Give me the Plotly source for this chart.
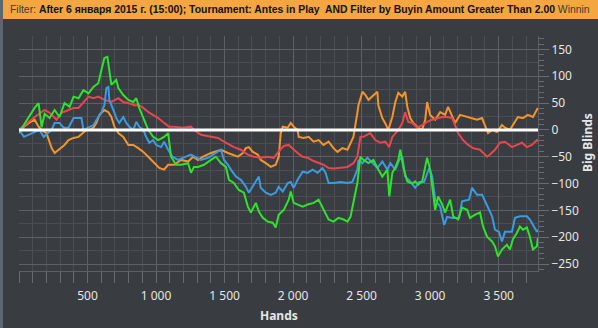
import plotly.graph_objects as go

# ---------------- data (hands, big blinds) ----------------
green_h = [0, 114, 143, 165, 187, 223, 260, 296, 332, 369, 398, 434, 470, 507, 543, 579, 601, 623, 645, 652,
           674, 710, 725, 761, 798, 834, 856, 877, 914, 943, 979, 1016, 1059, 1088, 1110, 1146, 1183, 1234, 1255,
           1277, 1306, 1350, 1401, 1437, 1474, 1510, 1532, 1568, 1604, 1641, 1670, 1692, 1728, 1750, 1779, 1815,
           1852, 1873, 1895, 1932, 1968, 1983, 2004, 2033, 2070, 2106, 2150, 2186, 2222, 2259, 2295, 2331, 2368,
           2397, 2419, 2440, 2469, 2491, 2513, 2550, 2586, 2622, 2651, 2688, 2702, 2724, 2746, 2768, 2782, 2804,
           2833, 2870, 2891, 2913, 2942, 2964, 2978, 3000, 3022, 3037, 3058, 3088, 3109, 3146, 3168, 3204, 3233,
           3270, 3291, 3328, 3364, 3386, 3415, 3452, 3473, 3495, 3524, 3560, 3582, 3604, 3633, 3655, 3677, 3706,
           3728, 3750, 3779, 3786]
green_v = [-5, 41, 50, 5, 30, 22, 37, 24, 50, 43, 62, 59, 74, 68, 80, 87, 111, 134, 136, 124,
           84, 93, 78, 65, 56, 52, 59, 41, 19, 0, -13, -19, -13, -6, -50, -65, -65, -62, -80,
           -69, -69, -65, -56, -50, -62, -69, -93, -99, -112, -117, -143, -154, -136, -152, -164, -171,
           -173, -182, -158, -149, -130, -115, -136, -139, -143, -139, -136, -130, -149, -167, -171, -164, -167,
           -171, -162, -136, -99, -50, -56, -62, -56, -74, -87, -74, -124, -80, -70, -56, -37, -69,
           -96, -100, -96, -102, -96, -69, -52, -74, -117, -149, -124, -139, -154, -130, -161, -167, -145,
           -149, -164, -158, -154, -180, -199, -208, -217, -236, -223, -214, -223, -204, -192, -180, -186, -182,
           -199, -223, -217, -201]

red_h = [0, 114, 187, 223, 274, 311, 361, 398, 434, 470, 507, 543, 579, 623, 674, 725, 761, 798, 841, 877,
         907, 950, 1016, 1059, 1095, 1132, 1197, 1255, 1277, 1328, 1401, 1452, 1496, 1568, 1619, 1670, 1713,
         1764, 1815, 1859, 1895, 1932, 1968, 2004, 2033, 2070, 2106, 2150, 2186, 2222, 2259, 2295, 2331, 2368,
         2397, 2440, 2469, 2491, 2513, 2563, 2600, 2637, 2673, 2702, 2724, 2768, 2797, 2818, 2840, 2870, 2906,
         2942, 2978, 3015, 3051, 3088, 3124, 3160, 3182, 3204, 3240, 3277, 3313, 3364, 3415, 3437, 3473, 3509,
         3546, 3597, 3633, 3670, 3706, 3742, 3779, 3786]
red_v = [0, 24, 37, 32, 19, 32, 37, 41, 41, 52, 62, 59, 62, 56, 52, 59, 52, 50, 46, 46,
         41, 32, 22, 13, 6, 6, 4, 6, 0, -9, -13, -15, -22, -32, -37, -46, -50,
         -52, -50, -52, -40, -30, -28, -37, -43, -50, -52, -58, -62, -65, -71, -72, -71, -70,
         -69, -62, -50, -13, -13, -6, -19, -24, -22, -32, -13, 0, 13, 33, 15, 13, 4,
         9, 15, 19, 22, 24, 24, 22, 9, -6, -19, -28, -34, -37, -50, -46, -37, -24,
         -22, -32, -28, -24, -32, -28, -19, -22]

blue_h = [0, 36, 114, 150, 180, 216, 238, 260, 296, 325, 361, 398, 456, 470, 507, 543, 579, 601, 623, 638,
          652, 659, 689, 710, 732, 761, 783, 805, 834, 856, 877, 907, 928, 950, 979, 1001, 1037, 1059, 1088,
          1120, 1160, 1200, 1255, 1328, 1379, 1437, 1474, 1496, 1525, 1546, 1583, 1619, 1656, 1677, 1706, 1728,
          1750, 1764, 1801, 1837, 1873, 1895, 1924, 1961, 1983, 2004, 2033, 2070, 2106, 2143, 2179, 2215, 2237,
          2259, 2295, 2346, 2397, 2433, 2469, 2477, 2506, 2542, 2579, 2615, 2651, 2688, 2710, 2746, 2775, 2797,
          2818, 2855, 2891, 2920, 2956, 2993, 3015, 3037, 3073, 3102, 3124, 3160, 3211, 3233, 3284, 3306, 3342,
          3379, 3401, 3430, 3452, 3473, 3502, 3524, 3546, 3597, 3619, 3655, 3706, 3728, 3757, 3779, 3786]
blue_v = [0, -13, -4, 0, -13, -4, 0, 13, 13, 4, 4, 22, 22, 0, 4, 9, 24, 33, 46, 78,
          80, 56, 37, 22, 13, 24, 13, 6, 0, 15, 6, 0, -13, -24, -19, -28, -32, -22, -37,
          -50, -56, -52, -46, -56, -52, -43, -37, -56, -65, -74, -87, -93, -106, -117, -106, -97,
          -87, -108, -117, -121, -117, -106, -115, -99, -97, -108, -93, -78, -80, -74, -80, -71, -80,
          -99, -99, -97, -99, -97, -74, -56, -62, -52, -62, -71, -59, -74, -62, -74, -56, -50,
          -87, -96, -108, -97, -97, -71, -87, -130, -143, -177, -162, -164, -164, -133, -130, -108, -121,
          -121, -133, -149, -161, -186, -190, -208, -190, -190, -164, -161, -161, -167, -180, -190, -186]

orange_h = [0, 36, 73, 114, 143, 165, 201, 216, 238, 260, 289, 311, 332, 361, 398, 434, 470, 492, 514, 543,
            565, 587, 623, 652, 674, 696, 725, 761, 798, 834, 870, 907, 943, 987, 1023, 1059, 1088, 1132, 1183,
            1234, 1270, 1306, 1343, 1401, 1474, 1525, 1597, 1633, 1655, 1677, 1706, 1742, 1764, 1801, 1837, 1873,
            1895, 1910, 1924, 1961, 1983, 2004, 2033, 2041, 2077, 2113, 2150, 2186, 2222, 2259, 2295, 2324, 2360,
            2397, 2419, 2440, 2469, 2477, 2506, 2528, 2550, 2579, 2615, 2622, 2651, 2673, 2695, 2724, 2746, 2768,
            2797, 2818, 2833, 2855, 2877, 2913, 2942, 2964, 2978, 3000, 3037, 3073, 3109, 3131, 3160, 3182, 3218,
            3270, 3306, 3342, 3379, 3401, 3422, 3452, 3488, 3524, 3546, 3582, 3604, 3640, 3677, 3713, 3750, 3779,
            3786]
orange_v = [-6, 6, 13, 19, 6, 0, -6, -19, -34, -43, -37, -32, -28, -19, -15, -13, -6, 0, 0, 4,
            13, 28, 37, 33, 24, 6, -6, -13, -28, -28, -34, -41, -50, -62, -71, -74, -65, -65, -56,
            -59, -50, -56, -50, -43, -37, -43, -50, -43, -34, -32, -41, -46, -56, -62, -69, -65,
            -50, -6, 6, 4, 13, 6, 0, -13, -15, -13, -22, -19, -28, -22, -34, -41, -34,
            -37, -24, -13, 32, 46, 71, 65, 56, 62, 71, 46, 22, 12, 0, 24, 52, 69,
            62, 71, 43, 22, 13, 4, 0, 19, 52, 28, 19, 33, 28, 43, 24, 13, 28,
            24, 22, 19, 22, 6, -6, 0, -4, 9, 4, 0, 9, 24, 22, 28, 24, 37,
            41]

x_tick_vals = [500, 1000, 1500, 2000, 2500, 3000, 3500]
x_tick_text = ["500", "1 000", "1 500", "2 000", "2 500", "3 000", "3 500"]
y_tick_vals = [-250, -200, -150, -100, -50, 0, 50, 100, 150]

header_prefix = "Filter:"
header_bold = "After 6 января 2015 г. (15:00); Tournament: Antes in Play&nbsp; AND Filter by Buyin Amount Greater Than 2.00"
header_suffix = "Winnin"

# ---------------- styling ----------------
BG = "#393c40"
GRID_MAJOR = "#5d6166"
GRID_MINOR = "#4a4e53"
TICK = "#686c71"
TXT = "#e6e6e6"
FONT = "Noto Sans"
HFONT = "Liberation Sans"

fig = go.Figure()
series = [
    (orange_h, orange_v, "#f5942c"),
    (red_h, red_v, "#e8464e"),
    (blue_h, blue_v, "#3a9be0"),
    (green_h, green_v, "#2ee22e"),
]
for xs, ys, col in series:
    fig.add_trace(go.Scatter(x=xs, y=ys, mode="lines", line=dict(color=col, width=2),
                             showlegend=False, hoverinfo="skip"))

# invisible trace on y2 to carry the fine minor ticks
fig.add_trace(go.Scatter(x=[0], y=[0], yaxis="y2", mode="markers", marker=dict(opacity=0),
                         showlegend=False, hoverinfo="skip"))

YR = [-263, 175]
fig.update_layout(
    width=598, height=328, autosize=False,
    margin=dict(l=19, r=60, t=36, b=57),
    paper_bgcolor=BG, plot_bgcolor=BG,
    font=dict(family=FONT, size=12, color=TXT),
    xaxis=dict(range=[0, 3787], tickvals=x_tick_vals, ticktext=x_tick_text,
               showgrid=True, gridcolor=GRID_MAJOR, gridwidth=1,
               ticks="outside", ticklen=11, tickcolor=TICK, tickwidth=1,
               ticklabelstandoff=3,
               minor=dict(dtick=100, tick0=0, showgrid=True, gridcolor=GRID_MINOR, gridwidth=1,
                          ticks="outside", ticklen=11, tickcolor=TICK),
               zeroline=False, showline=True, linecolor=GRID_MAJOR, mirror=False,
               tickfont=dict(size=12, color=TXT, family=FONT), fixedrange=True),
    yaxis=dict(range=YR, side="right", tickvals=y_tick_vals,
               showgrid=True, gridcolor=GRID_MAJOR, gridwidth=1,
               ticks="outside", ticklen=10, tickcolor=TICK, tickwidth=1,
               minor=dict(dtick=25, tick0=0, showgrid=True, gridcolor=GRID_MINOR, gridwidth=1, ticks=""),
               zeroline=False, showline=True, linecolor=GRID_MAJOR,
               tickfont=dict(size=12, color=TXT, family=FONT), fixedrange=True),
    yaxis2=dict(range=YR, overlaying="y", side="right", dtick=10, tick0=0,
                ticks="outside", ticklen=5, tickcolor=TICK, showticklabels=False,
                showgrid=False, zeroline=False, showline=False, fixedrange=True),
    shapes=[
        # header bar
        dict(type="rect", xref="paper", yref="paper", x0=-0.04, x1=1.12, y0=1.072, y1=1.16,
             fillcolor="#f4a640", line=dict(width=0), layer="above"),
        # window left border
        dict(type="rect", xref="paper", yref="paper", x0=-0.04, x1=-0.0308, y0=-0.25, y1=1.16,
             fillcolor="#5d6670", line=dict(width=0), layer="above"),
        # zero line
        dict(type="line", xref="paper", yref="y", x0=0, x1=1, y0=0, y1=0,
             line=dict(color="#ffffff", width=3), layer="above"),
    ],
    annotations=[
        dict(xref="paper", yref="paper", x=-0.0212, y=1.112, xanchor="left", yanchor="middle",
             showarrow=False,
             text=(f"<span style='color:#3c3c3c'>{header_prefix}</span> "
                   f"<b>{header_bold}</b> <span style='color:#3c3c3c'>{header_suffix}</span>"),
             font=dict(family=HFONT, size=10.4, color="#111111")),
        dict(xref="paper", yref="paper", x=0.5, y=-0.19, xanchor="center", yanchor="middle",
             showarrow=False, text="<b>Hands</b>", font=dict(family=FONT, size=12, color=TXT)),
        dict(xref="paper", yref="paper", x=1.0963, y=0.549, xanchor="center", yanchor="middle",
             showarrow=False, text="<b>Big Blinds</b>", textangle=-90,
             font=dict(family=FONT, size=12, color=TXT)),
    ],
)

fig.write_html("out.html")
